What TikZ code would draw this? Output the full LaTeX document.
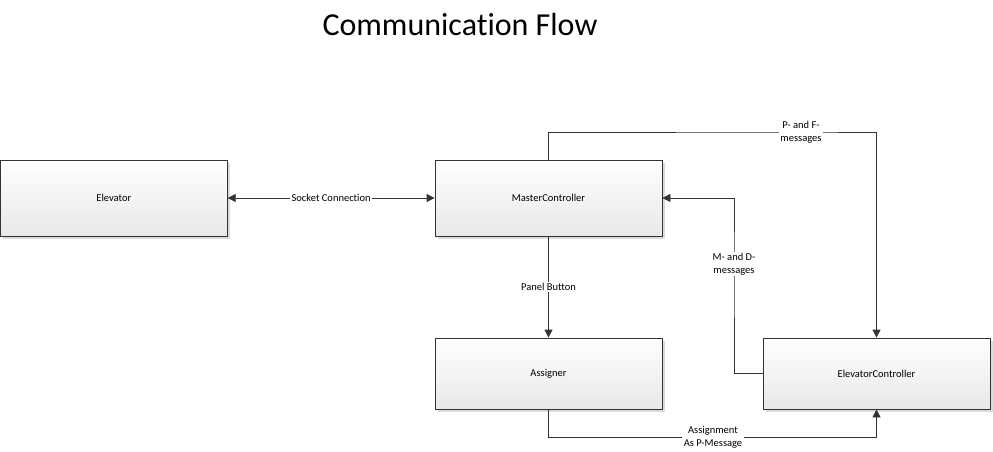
\documentclass[tikz,border=0pt]{standalone}
\usepackage{fontspec}
\setmainfont{Carlito}[Ligatures=NoCommon]
\usepackage{tikz}
\usetikzlibrary{arrows.meta,shadows,positioning}

\begin{document}
\begin{tikzpicture}[x=1pt,y=1pt,
  block/.style={draw=black!80,line width=0.8pt,rectangle,inner sep=0pt,
    minimum width=227pt,top color=white,bottom color=black!9,
    drop shadow={shadow xshift=3pt,shadow yshift=-3pt,fill=black!14,opacity=1},
    font=\fontsize{10.5}{12.6}\selectfont},
  lbl/.style={fill=white,inner sep=1.5pt,align=center,
    font=\fontsize{10.5}{12.6}\selectfont},
  flow/.style={draw=black!80,line width=0.8pt,-{Triangle[length=8pt,width=8pt]}}]
\useasboundingbox (0,0) rectangle (993,-451);
\node [anchor=base,font=\fontsize{32}{38}\selectfont] (title) at (460,-35) {Communication Flow};
\node [block,minimum height=76pt] (elev) at (113.8,-198) {Elevator};
\node [block,minimum height=76pt] (master) at (548.5,-198) {MasterController};
\node [block,minimum height=71pt] (assign) at (548.5,-373.5) {Assigner};
\node [block,minimum height=71pt] (ctrl) at (876.5,-373.5) {ElevatorController};
\coordinate (pf) at (801,-132);
\coordinate (md) at (734,-264);
\coordinate (asg) at (713,-437);
\draw [flow,{Triangle[length=8pt,width=8pt]}-{Triangle[length=8pt,width=8pt]}] (elev) -- node [lbl] {Socket Connection} (master);
\draw [flow] (master.north) |- (pf) -| (ctrl.north);
\node [lbl] at (pf) {P- and F-\\messages};
\draw [flow] (ctrl.west) -| (md) |- (master.east);
\node [lbl] at (md) {M- and D-\\messages};
\draw [flow] (master) -- node [lbl] {Panel Button} (assign);
\draw [flow] (assign.south) |- (asg) -| (ctrl.south);
\node [lbl] at (asg) {Assignment\\As P-Message};
\end{tikzpicture}
\end{document}
